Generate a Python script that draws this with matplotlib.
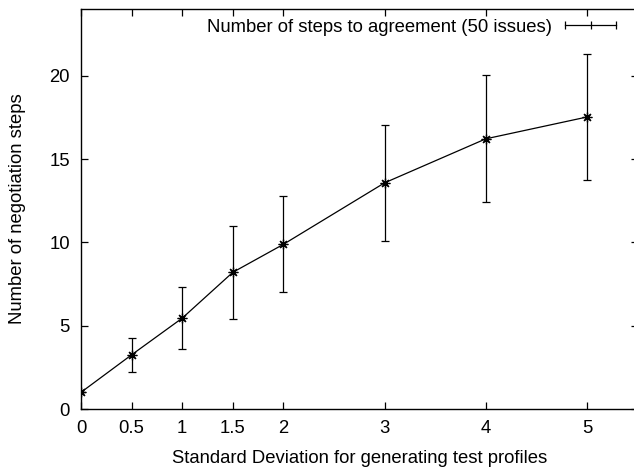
import matplotlib
matplotlib.use('Agg')
import matplotlib.pyplot as plt

plt.rcParams['font.family'] = ['Liberation Sans', 'DejaVu Sans']

sd = [0, 0.5, 1, 1.5, 2, 3, 4, 5]
steps = [1.0, 3.25, 5.45, 8.2, 9.88, 13.57, 16.21, 17.52]
err = [0.0, 1.0, 1.85, 2.8, 2.88, 3.5, 3.8, 3.77]
xticks = [0, 0.5, 1, 1.5, 2, 3, 4, 5]
yticks = [0, 5, 10, 15, 20]
label = 'Number of steps to agreement (50 issues)'

fs = 13.3

fig = plt.figure(figsize=(6.34, 4.69), dpi=100)
ax = fig.add_axes([81 / 634, 60 / 469, 556.6 / 634, 400 / 469])

ax.errorbar(sd, steps, yerr=err, color='black', lw=0.9, elinewidth=0.9,
            capsize=3, capthick=0.9, marker=(8, 2, 0), markersize=7,
            markeredgewidth=0.9)

ax.set_xlim(0, 5.5)
ax.set_ylim(0, 24)
ax.set_xticks(xticks)
ax.set_xticklabels(['0', '0.5', '1', '1.5', '2', '3', '4', '5'])
ax.set_yticks(yticks)
ax.tick_params(direction='in', length=5, width=0.9, top=True, right=True,
               labelsize=fs)
ax.tick_params(axis='x', pad=8)
ax.tick_params(axis='y', pad=8)
for s in ax.spines.values():
    s.set_linewidth(1.0)

ax.set_xlabel('Standard Deviation for generating test profiles', fontsize=fs,
              labelpad=9)
ax.set_ylabel('Number of negotiation steps', fontsize=fs, labelpad=17)

# gnuplot-style key
ax.text(0.846, 0.955, label, transform=ax.transAxes, ha='right',
        va='center', fontsize=fs)
ax.plot([0.8696, 0.9612], [0.96, 0.96], transform=ax.transAxes,
        color='black', lw=0.9)
ax.plot([0.8696, 0.9154, 0.9612], [0.96] * 3, transform=ax.transAxes,
        color='black', lw=0, marker='|', markersize=6, markeredgewidth=0.9)

fig.savefig('out.png', dpi=100)
